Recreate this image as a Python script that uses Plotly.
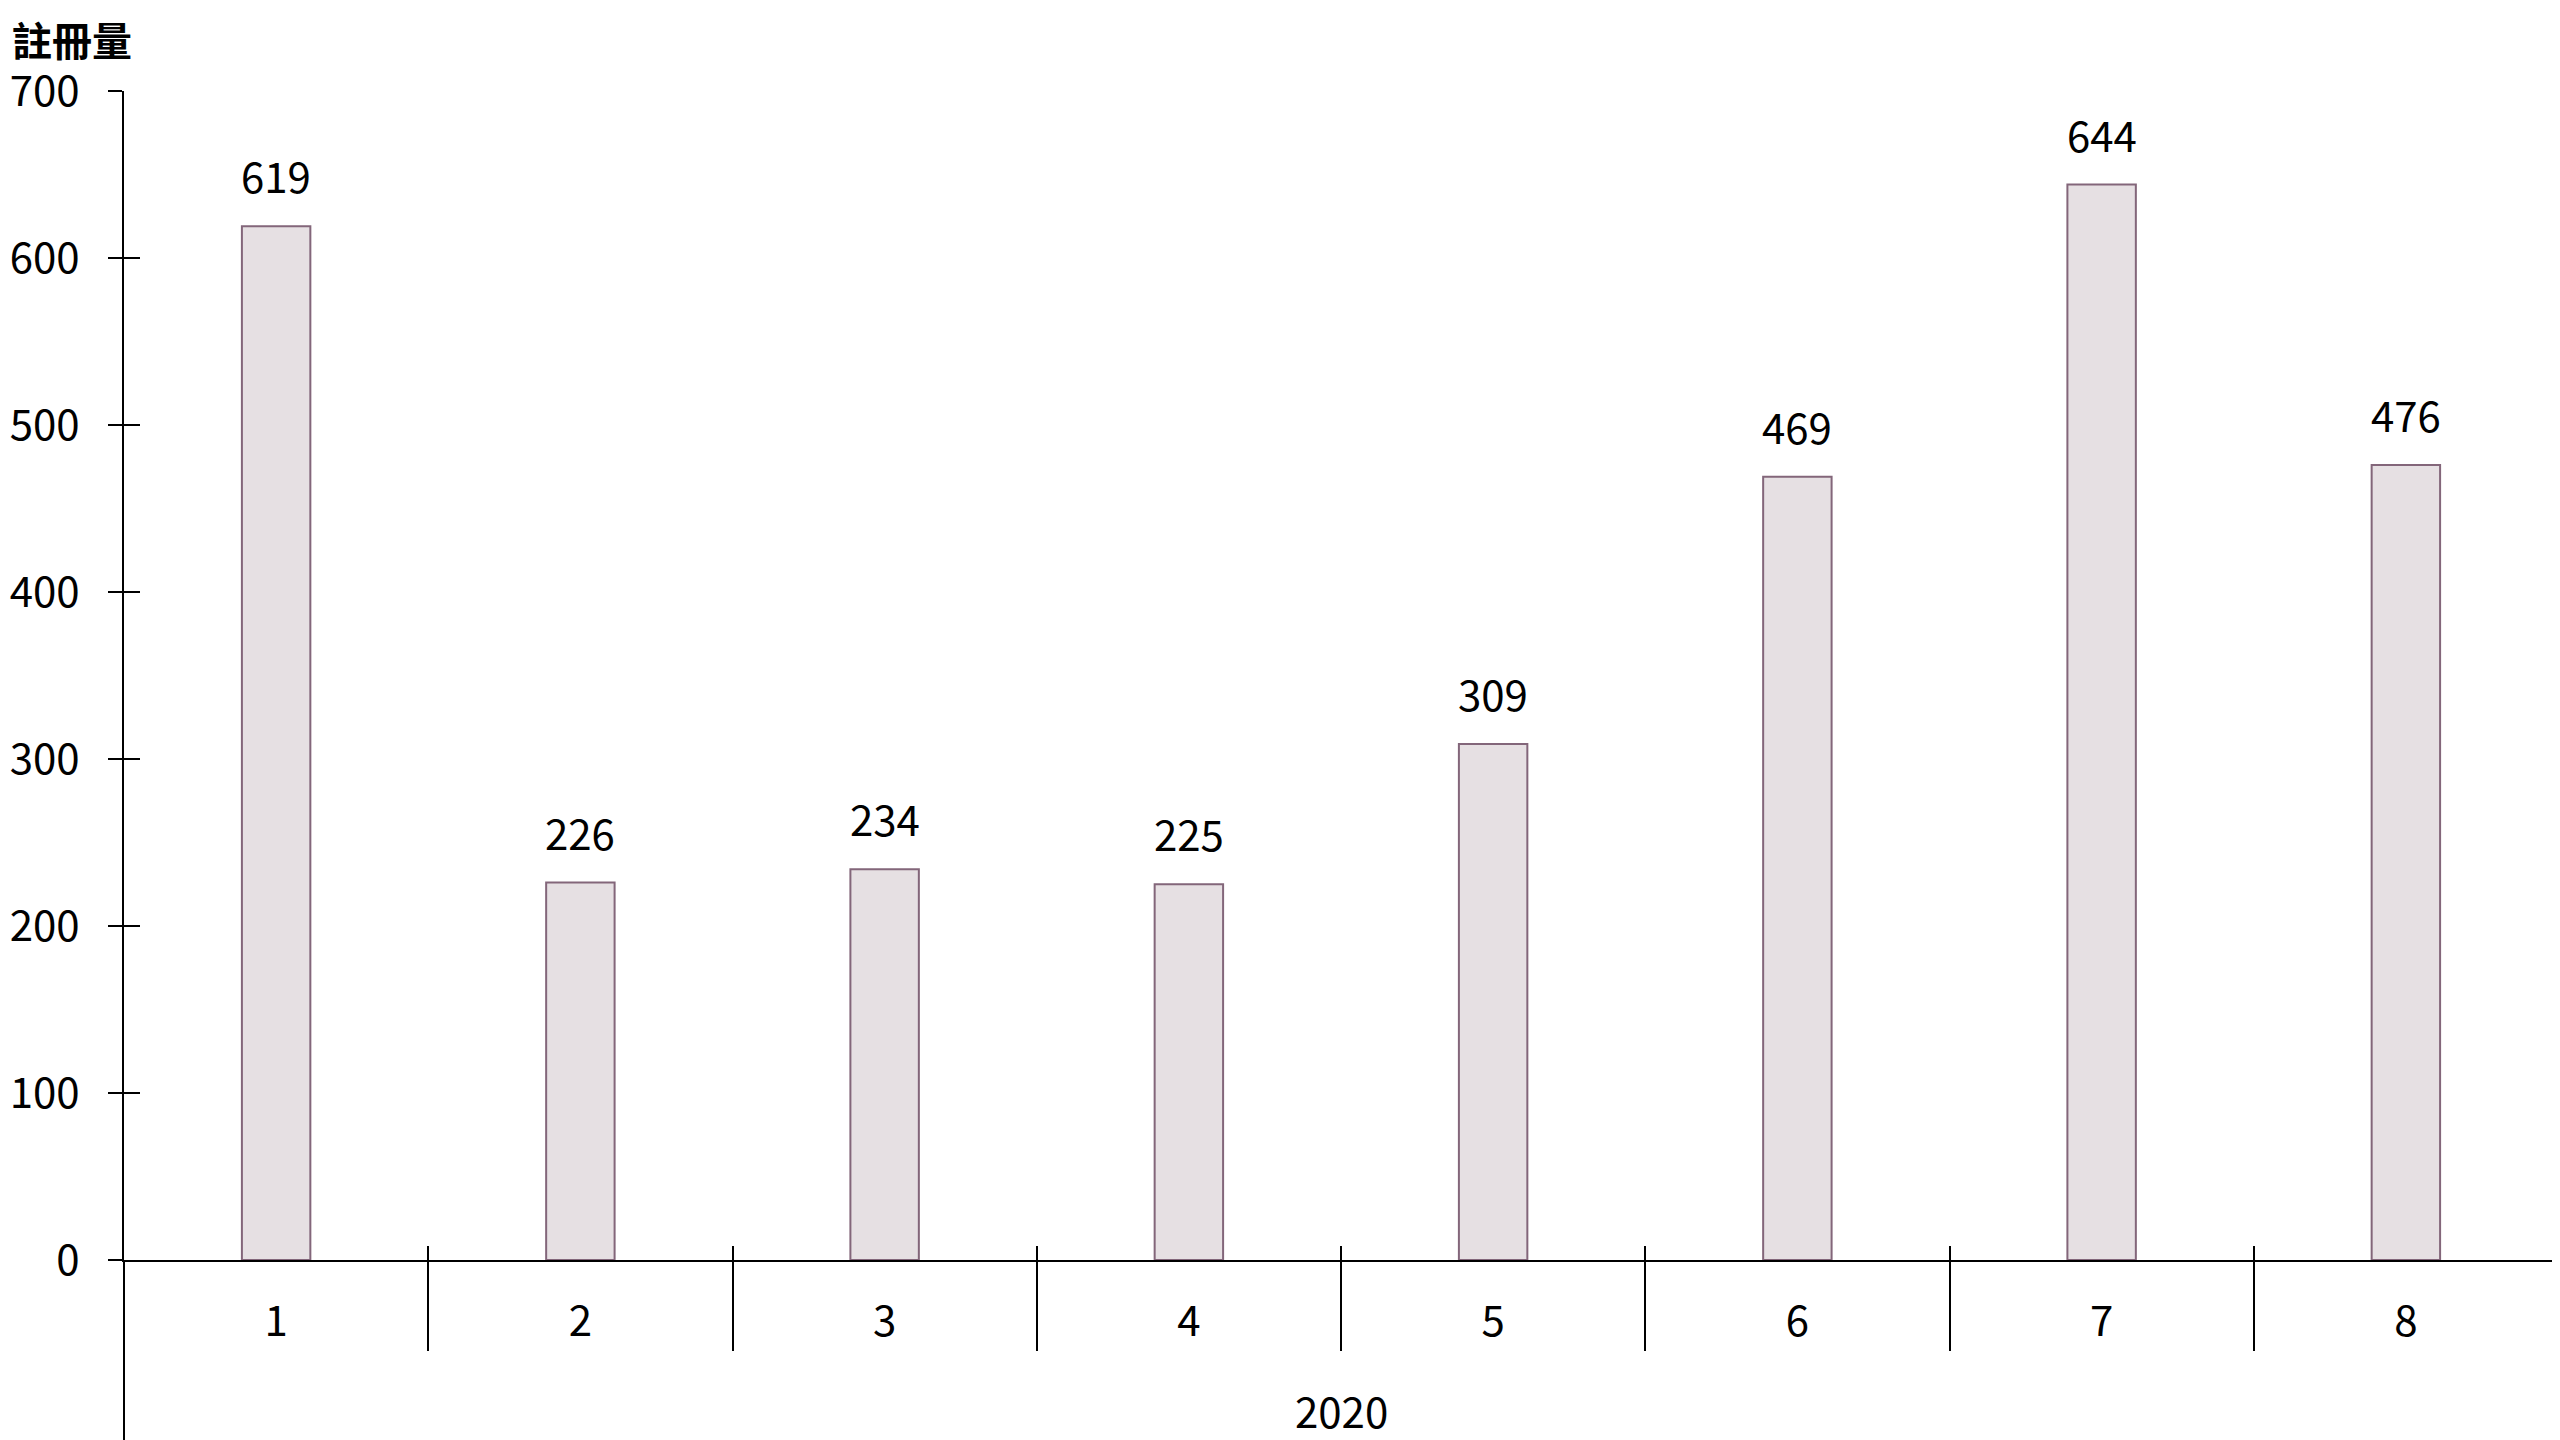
import plotly.graph_objects as go

months = ["1", "2", "3", "4", "5", "6", "7", "8"]
registrations = [619, 226, 234, 225, 309, 469, 644, 476]
year_label = "2020"
y_title = "註冊量"
y_ticks = [0, 100, 200, 300, 400, 500, 600, 700]

FONT = "Noto Sans CJK TC"
FS = 42
pos = list(range(1, len(months) + 1))
bounds = [p - 0.5 for p in pos] + [pos[-1] + 0.5]
xr = [0.5, len(months) + 0.5]
yr = [0, 700]

W, H = 2552, 1432
fig = go.Figure()
fig.add_trace(go.Bar(
    x=pos, y=registrations, width=0.225,
    marker=dict(color="#E6E0E3", line=dict(color="#83667A", width=2)),
    hoverinfo="skip",
))

for p, v in zip(pos, registrations):
    fig.add_annotation(x=p, y=v, text=str(v), showarrow=False,
                       yanchor="bottom", yshift=19,
                       font=dict(family=FONT, size=FS, color="black"))

fig.add_annotation(xref="paper", yref="paper", x=0.5, y=-0.1275,
                   text=year_label, showarrow=False, yanchor="middle",
                   font=dict(family=FONT, size=FS, color="black"))

axis_common = dict(showgrid=False, zeroline=False)

fig.update_layout(
    width=W, height=H,
    margin=dict(l=113, r=2, t=83, b=180),
    plot_bgcolor="white", paper_bgcolor="white",
    showlegend=False,
    font=dict(family=FONT, size=FS, color="black"),
    title=dict(text="<b>" + y_title + "</b>", x=4 / W, xanchor="left",
               y=1 - 34 / H, yanchor="middle", yref="container",
               font=dict(family=FONT, size=40, color="black")),
    xaxis=dict(range=xr, tickvals=pos, ticktext=months, ticks="",
               showline=True, linecolor="black", linewidth=2,
               ticklabelstandoff=24, tickfont=dict(size=FS), **axis_common),
    xaxis2=dict(range=xr, overlaying="x", anchor="y", side="bottom",
                tickvals=bounds, ticks="outside", ticklen=90, tickwidth=2,
                tickcolor="black", showticklabels=False, showline=False,
                **axis_common),
    xaxis3=dict(range=xr, overlaying="x", anchor="y", side="bottom",
                tickvals=bounds, ticks="inside", ticklen=14, tickwidth=2,
                tickcolor="black", showticklabels=False, showline=False,
                **axis_common),
    yaxis=dict(range=yr, tickvals=y_ticks, ticks="outside", ticklen=14,
               tickwidth=2, tickcolor="black", showline=True,
               linecolor="black", linewidth=2, ticklabelstandoff=20,
               tickfont=dict(size=FS), **axis_common),
    yaxis2=dict(range=yr, overlaying="y", anchor="x", side="left",
                tickvals=y_ticks, ticks="inside", ticklen=16, tickwidth=2,
                tickcolor="black", showticklabels=False, showline=False,
                **axis_common),
)

# invisible carriers so overlay axes get drawn
fig.add_trace(go.Scatter(x=pos, y=registrations, xaxis="x2", yaxis="y2",
                         mode="markers", marker=dict(opacity=0),
                         hoverinfo="skip"))
fig.add_trace(go.Scatter(x=pos, y=registrations, xaxis="x3", yaxis="y",
                         mode="markers", marker=dict(opacity=0),
                         hoverinfo="skip"))

# group frame lines extending below the axis
fig.add_shape(type="line", xref="paper", yref="paper", x0=0, x1=0,
              y0=0, y1=-0.16, line=dict(color="black", width=2))
fig.add_shape(type="line", xref="paper", yref="paper", x0=1, x1=1,
              y0=0, y1=-0.16, line=dict(color="black", width=2))

fig.write_html("out.html")
